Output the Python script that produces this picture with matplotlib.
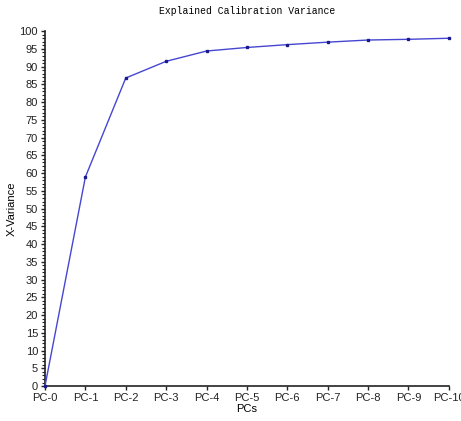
import numpy as np
import matplotlib.pyplot as plt
from matplotlib.ticker import MultipleLocator

pcs = ["PC-0", "PC-1", "PC-2", "PC-3", "PC-4", "PC-5", "PC-6", "PC-7", "PC-8", "PC-9", "PC-10"]
x_variance = [0, 58.9, 86.8, 91.5, 94.4, 95.4, 96.2, 96.9, 97.5, 97.7, 98.0]

plt.rcParams['font.family'] = ['Liberation Sans', 'DejaVu Sans']

fig = plt.figure(figsize=(4.61, 4.21), dpi=100)
ax = fig.add_axes([0.0976, 0.083, 0.876, 0.843])

xs = np.arange(len(pcs))
ax.plot(xs, x_variance, color='#4646d2', lw=1.0, marker='s', ms=1.6,
        mfc='#1a1a90', mec='#1a1a90', clip_on=False, zorder=3)

ax.set_xlim(0, len(pcs) - 1)
ax.set_ylim(0, 100)
ax.set_xticks(xs)
ax.set_xticklabels(pcs)
ax.yaxis.set_major_locator(MultipleLocator(5))
ax.yaxis.set_minor_locator(MultipleLocator(1))

for s in ['top', 'right']:
    ax.spines[s].set_visible(False)
for s in ['left', 'bottom']:
    ax.spines[s].set_linewidth(1.2)
    ax.spines[s].set_color('#222222')

ax.tick_params(axis='both', which='major', labelsize=8, length=3, width=1, colors='#222222', pad=2)
ax.tick_params(axis='y', which='minor', length=2, width=0.8, colors='#222222')

ax.set_xlabel("PCs", fontsize=8, labelpad=1)
ax.set_ylabel("X-Variance", fontsize=8, labelpad=2)
ax.set_title("Explained Calibration Variance", fontsize=7, family=['Liberation Mono', 'DejaVu Sans Mono'],
             pad=12)

fig.savefig("out.png", dpi=100)
